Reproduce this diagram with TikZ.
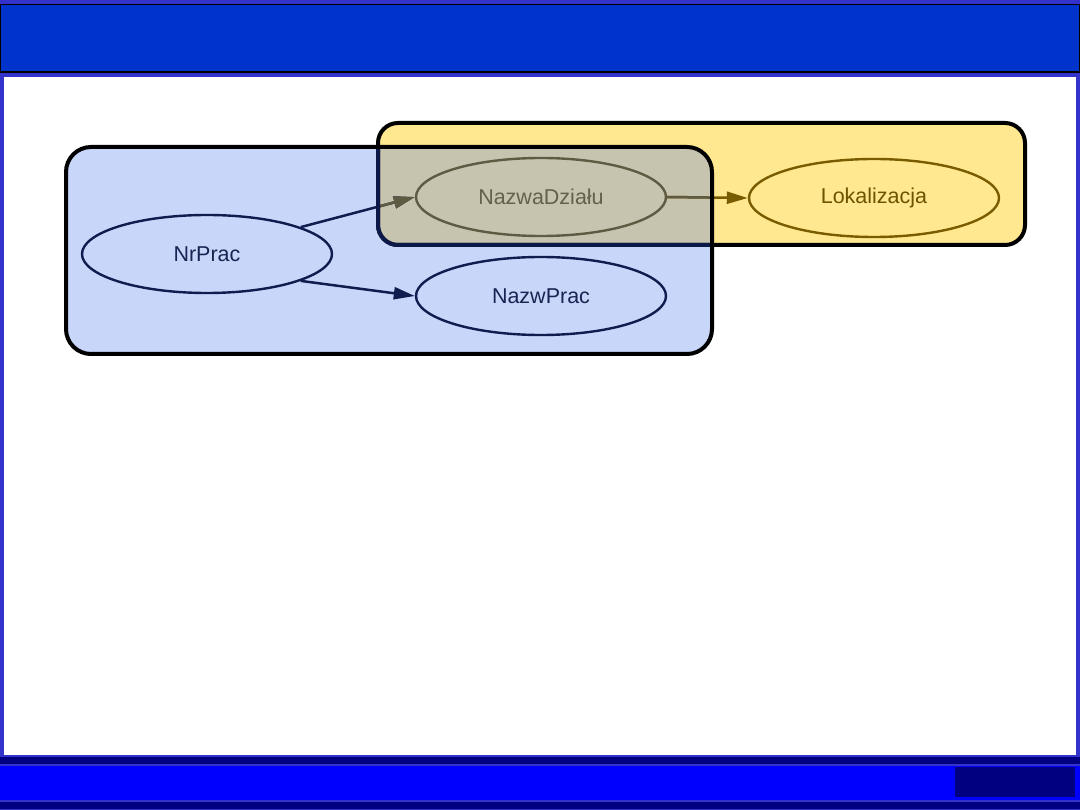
\documentclass[tikz,border=0pt]{standalone}
\usepackage{fontspec}
\setmainfont{Liberation Sans}
\usetikzlibrary{shapes.geometric,arrows.meta}
\definecolor{framec}{HTML}{3333CC}
\definecolor{headc}{HTML}{0033CC}
\definecolor{footc}{HTML}{0000FF}
\definecolor{navyc}{HTML}{000080}
\definecolor{bluefill}{HTML}{C8D6FA}
\definecolor{yelfill}{HTML}{FFE890}
\definecolor{ovfill}{HTML}{C6C4AF}
\definecolor{navyline}{HTML}{0F1C4E}
\definecolor{navytext}{HTML}{1A2452}
\definecolor{oliveline}{HTML}{5F5A42}
\definecolor{olivetext}{HTML}{656049}
\definecolor{brownline}{HTML}{7A5C00}
\definecolor{browntext}{HTML}{6C5300}
\definecolor{tintborder}{HTML}{0B1848}
\tikzset{
  attr/.style={ellipse, minimum width=250pt, minimum height=78pt, inner sep=0pt, line width=2.4pt, font=\fontsize{21.5}{26}\selectfont},
  bluenode/.style={attr, draw=navyline, text=navytext},
  ovnode/.style={attr, draw=oliveline, text=olivetext},
  yelnode/.style={attr, draw=brownline, text=browntext},
  edge/.style={line width=2.5pt, -{Triangle[length=21pt,width=12pt]}},
  clusterline/.style={line width=4pt},
}
\begin{document}
\begin{tikzpicture}[x=1pt,y=-1pt]
\useasboundingbox (0,0) rectangle (1080,810);
% frame
\fill[framec] (0,0) rectangle (1080,810);
\fill[white] (4,77) rectangle (1076,755);
\fill[headc, draw=black, line width=1pt] (0.5,4.5) rectangle (1079.5,72);
\fill[black] (0,71) rectangle (1080,73.5);
\fill[navyc] (0,757) rectangle (1080,764);
\fill[footc] (0,766) rectangle (1080,800);
\fill[navyc] (955,767) rectangle (1075,797);
\fill[navyc] (0,802) rectangle (1080,809);
% cluster fills
\fill[yelfill, rounded corners=20pt] (378,123) rectangle (1025,245);
\fill[bluefill, rounded corners=25pt] (66,147) rectangle (712,354);
\begin{scope}
  \clip[rounded corners=25pt] (66,147) rectangle (712,354);
  \fill[ovfill, rounded corners=20pt] (378,123) rectangle (1025,245);
\end{scope}
% nodes
\node[bluenode] (nr) at (207,254) {NrPrac};
\node[ovnode] (nd) at (541,197) {NazwaDziału};
\node[bluenode] (np) at (541,296) {NazwPrac};
\node[yelnode] (lk) at (874,198) {Lokalizacja};
% edges
\draw[edge, navyline] (nr.16) -- (nd.west);
\begin{scope}
  \clip[rounded corners=20pt] (380,125) rectangle (1023,243);
  \draw[edge, oliveline] (nr.16) -- (nd.west);
\end{scope}
\draw[edge, navyline] (nr.344) -- (np.west);
\draw[edge, brownline] (nd.east) -- (lk.west);
\begin{scope}
  \clip[rounded corners=25pt] (66,147) rectangle (712,354);
  \draw[edge, oliveline] (nd.east) -- (lk.west);
\end{scope}
% cluster borders
\draw[clusterline, black, rounded corners=20pt] (378,123) rectangle (1025,245);
\begin{scope}
  \clip[rounded corners=25pt] (66,147) rectangle (712,354);
  \draw[clusterline, tintborder, rounded corners=20pt] (378,123) rectangle (1025,245);
\end{scope}
\draw[clusterline, black, rounded corners=25pt] (66,147) rectangle (712,354);
\end{tikzpicture}
\end{document}
